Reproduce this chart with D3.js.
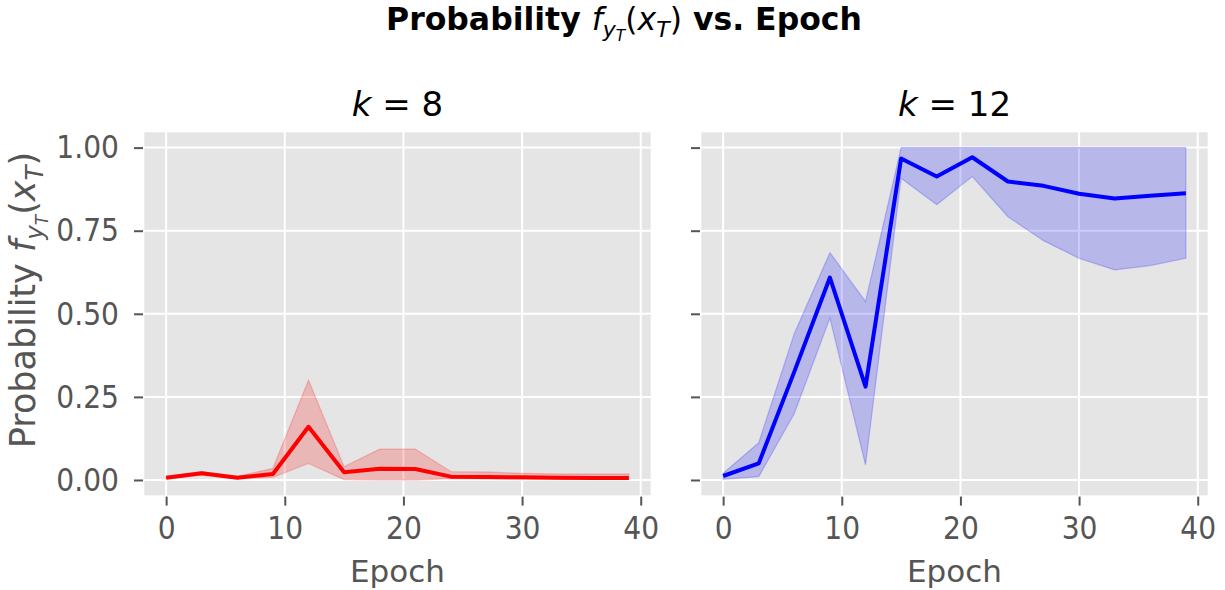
<!DOCTYPE html>
<html>
<head>
<meta charset="utf-8">
<script src="https://cdn.jsdelivr.net/npm/d3@7"></script>
<style>
  body { margin: 0; background: #fff; }
  svg text { font-family: "DejaVu Sans", sans-serif; }
</style>
</head>
<body>
<div id="chart"></div>
<script>
const epochs = [0, 3, 6, 9, 12, 15, 18, 21, 24, 27, 30, 33, 36, 39];

const k8Mean  = [0.007, 0.020, 0.007, 0.018, 0.160, 0.023, 0.034, 0.033, 0.010, 0.009, 0.008, 0.007, 0.006, 0.006];
const k8Upper = [0.011, 0.025, 0.011, 0.035, 0.300, 0.040, 0.093, 0.093, 0.025, 0.024, 0.020, 0.018, 0.018, 0.018];
const k8Lower = [0.004, 0.015, 0.004, 0.008, 0.050, 0.001, 0.000, 0.000, 0.004, 0.003, 0.002, 0.002, 0.002, 0.002];

const k12Mean  = [0.012, 0.050, 0.326, 0.609, 0.281, 0.967, 0.913, 0.971, 0.898, 0.885, 0.861, 0.847, 0.855, 0.863];
const k12Upper = [0.020, 0.112, 0.441, 0.684, 0.537, 1.000, 1.000, 1.000, 1.000, 1.000, 1.000, 1.000, 1.000, 1.000];
const k12Lower = [0.002, 0.010, 0.200, 0.487, 0.045, 0.908, 0.828, 0.913, 0.792, 0.720, 0.667, 0.632, 0.645, 0.667];

const xTicks = [0, 10, 20, 30, 40];
const yTicks = [0, 0.25, 0.5, 0.75, 1.0];

const panels = [
  { label: "8",  mean: k8Mean,  upper: k8Upper,  lower: k8Lower,  color: "#ff0000", left: 143, yLabels: true },
  { label: "12", mean: k12Mean, upper: k12Upper, lower: k12Lower, color: "#0000ff", left: 700, yLabels: false }
];

const W = 1225, H = 590;
const panelW = 509, plotTop = 131, plotBottom = 496.6;
const tickColor = "#555555";
const sx = 0.88; // tick labels look horizontally squeezed in the source

const svg = d3.select("#chart").append("svg")
  .attr("width", W).attr("height", H);

// math-ish text helper: parts with italic / bold / sub level
function mathText(sel, parts, size) {
  let level = 0;
  const shift = [0, 0.22, 0.36];
  parts.forEach(p => {
    const l = p.l || 0;
    const dy = (shift[l] - shift[level]) * size;
    level = l;
    sel.append("tspan")
      .attr("dy", dy)
      .style("font-size", (size * Math.pow(0.7, l)) + "px")
      .style("font-style", p.i ? "italic" : "normal")
      .style("font-weight", p.b ? "bold" : "normal")
      .text(p.s);
  });
}

const y = d3.scaleLinear().domain([-0.05, 1.05]).range([plotBottom, plotTop]);

panels.forEach(pn => {
  const x = d3.scaleLinear().domain([-1.95, 40.95]).range([pn.left, pn.left + panelW]);
  const g = svg.append("g");

  g.append("rect")
    .attr("x", pn.left).attr("y", plotTop)
    .attr("width", panelW).attr("height", plotBottom - plotTop)
    .attr("fill", "#e5e5e5");

  // grid
  g.append("g")
    .selectAll("line")
    .data(xTicks)
    .join("line")
    .attr("x1", d => x(d)).attr("x2", d => x(d))
    .attr("y1", plotTop).attr("y2", plotBottom)
    .attr("stroke", "#fff").attr("stroke-width", 2);
  g.append("g")
    .selectAll("line")
    .data(yTicks)
    .join("line")
    .attr("x1", pn.left).attr("x2", pn.left + panelW)
    .attr("y1", d => y(d)).attr("y2", d => y(d))
    .attr("stroke", "#fff").attr("stroke-width", 2);

  // white frame (spines)
  g.append("rect")
    .attr("x", pn.left).attr("y", plotTop)
    .attr("width", panelW).attr("height", plotBottom - plotTop)
    .attr("fill", "none").attr("stroke", "#fff").attr("stroke-width", 2.6);

  const idx = d3.range(epochs.length);

  const area = d3.area()
    .x(i => x(epochs[i]))
    .y0(i => y(pn.lower[i]))
    .y1(i => y(pn.upper[i]));

  g.append("path")
    .datum(idx)
    .attr("d", area)
    .attr("fill", pn.color).attr("fill-opacity", 0.2)
    .attr("stroke", pn.color).attr("stroke-opacity", 0.2).attr("stroke-width", 1.3);

  const line = d3.line()
    .x(i => x(epochs[i]))
    .y(i => y(pn.mean[i]));

  g.append("path")
    .datum(idx)
    .attr("d", line)
    .attr("fill", "none")
    .attr("stroke", pn.color).attr("stroke-width", 4)
    .attr("stroke-linejoin", "round").attr("stroke-linecap", "butt");

  // axes
  const xAxis = g.append("g")
    .attr("transform", `translate(0,${plotBottom})`)
    .call(d3.axisBottom(x).tickValues(xTicks).tickSize(9).tickPadding(11).tickFormat(d3.format("d")));
  xAxis.select(".domain").remove();
  xAxis.selectAll("line").attr("stroke", tickColor).attr("stroke-width", 2);
  xAxis.selectAll("text")
    .attr("fill", tickColor).style("font-size", "32px")
    .attr("transform", `scale(${sx},1)`);

  const yAxis = g.append("g")
    .attr("transform", `translate(${pn.left},0)`)
    .call(d3.axisLeft(y).tickValues(yTicks).tickSize(9).tickPadding(15)
      .tickFormat(pn.yLabels ? d3.format(".2f") : () => ""));
  yAxis.select(".domain").remove();
  yAxis.selectAll("line").attr("stroke", tickColor).attr("stroke-width", 2);
  yAxis.selectAll("text")
    .attr("fill", tickColor).style("font-size", "32px")
    .attr("x", -24 / sx)
    .attr("transform", `scale(${sx},1)`);

  // x label
  g.append("text")
    .attr("x", pn.left + panelW / 2).attr("y", 582)
    .attr("text-anchor", "middle")
    .attr("fill", tickColor)
    .style("font-size", "31px")
    .text("Epoch");

  // panel title
  const t = g.append("text")
    .attr("x", pn.left + panelW / 2).attr("y", 116)
    .attr("text-anchor", "middle")
    .attr("fill", "#000");
  mathText(t, [{ s: "k", i: true }, { s: " = " + pn.label }], 34);
});

// y label
const yl = svg.append("text")
  .attr("transform", `translate(35,300) rotate(-90)`)
  .attr("text-anchor", "middle")
  .attr("fill", tickColor);
mathText(yl, [
  { s: "Probability " }, { s: "f", i: true }, { s: "y", i: true, l: 1 }, { s: "T", i: true, l: 2 },
  { s: "(" }, { s: "x", i: true }, { s: "T", i: true, l: 1 }, { s: ")" }
], 35);

// suptitle
const st = svg.append("text")
  .attr("x", 624).attr("y", 30)
  .attr("text-anchor", "middle")
  .attr("fill", "#000");
mathText(st, [
  { s: "Probability ", b: true }, { s: "f", i: true }, { s: "y", i: true, l: 1 }, { s: "T", i: true, l: 2 },
  { s: "(" }, { s: "x", i: true }, { s: "T", i: true, l: 1 }, { s: ")" }, { s: " vs. Epoch", b: true }
], 31.5);
</script>
</body>
</html>
